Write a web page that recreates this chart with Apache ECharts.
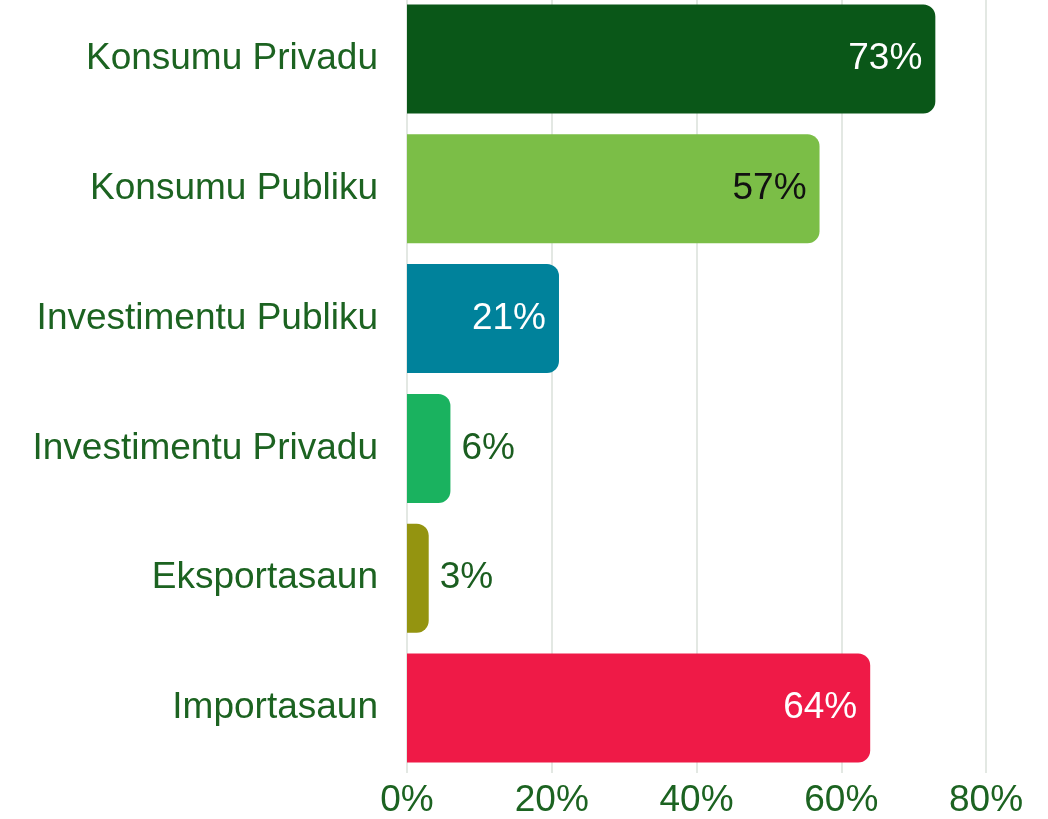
<!DOCTYPE html>
<html>
<head>
<meta charset="utf-8">
<script src="https://cdn.jsdelivr.net/npm/echarts@6/dist/echarts.min.js"></script>
<style>
  html, body { margin: 0; padding: 0; background: #fff; overflow: hidden; }
  #main { position: absolute; left: 0; top: -6px; width: 1048px; height: 825px; }
</style>
</head>
<body>
<div id="main"></div>
<script>
var categories = ['Konsumu Privadu', 'Konsumu Publiku', 'Investimentu Publiku', 'Investimentu Privadu', 'Eksportasaun', 'Importasaun'];
var values = [73, 57, 21, 6, 3, 64];
var barColors = ['#0a5718', '#7bbe47', '#00829b', '#1ab25f', '#949410', '#ef1a47'];
var labelColors = ['#ffffff', '#111111', '#ffffff', '#1b5e20', '#1b5e20', '#ffffff'];
var labelInside = [true, true, true, false, false, true];
var xTicks = [0, 20, 40, 60, 80];

var textGreen = '#1c6321';
var fontName = 'Liberation Sans';

var myChart = echarts.init(document.getElementById('main'));

// grid starts 6px above the page so the bars line up with the picture
var option = {
    animation: false,
    grid: { left: 407, right: 62, top: 0, bottom: 45 },
    xAxis: {
        type: 'value',
        min: xTicks[0],
        max: xTicks[xTicks.length - 1],
        interval: 20,
        axisLine: { show: false },
        axisTick: { show: false },
        splitLine: { lineStyle: { color: '#e3e8e3', width: 2 } },
        axisLabel: {
            formatter: '{value}%',
            color: textGreen,
            fontFamily: fontName,
            fontSize: 37,
            margin: 9
        }
    },
    yAxis: {
        type: 'category',
        inverse: true,
        data: categories,
        axisLine: { show: false },
        axisTick: { show: false },
        axisLabel: {
            color: textGreen,
            fontFamily: fontName,
            fontSize: 37,
            margin: 29
        }
    },
    series: [{
        type: 'bar',
        barWidth: 109,
        data: values.map(function (v, i) {
            return {
                value: v,
                itemStyle: { color: barColors[i], borderRadius: [0, 12, 12, 0] },
                label: {
                    show: true,
                    position: labelInside[i] ? 'insideRight' : 'right',
                    distance: labelInside[i] ? 13 : 11,
                    formatter: '{c}%',
                    color: labelColors[i],
                    fontFamily: fontName,
                    fontSize: 37
                }
            };
        })
    }]
};

myChart.setOption(option);
</script>
</body>
</html>
